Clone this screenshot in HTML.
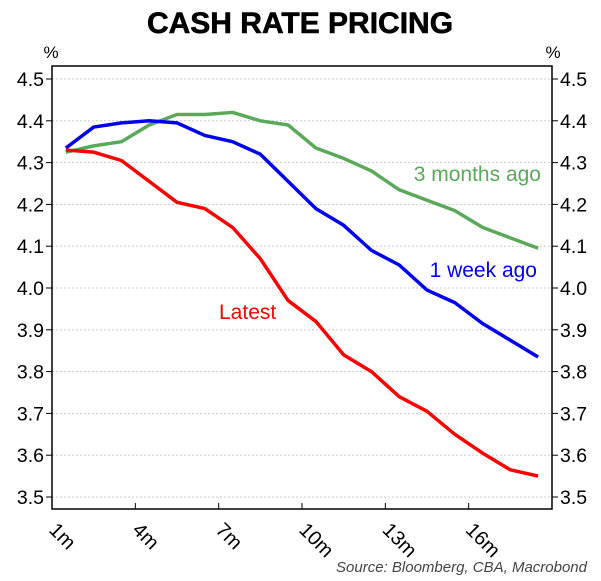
<!DOCTYPE html>
<html><head><meta charset="utf-8"><style>
body{margin:0;background:#fff;font-family:"Liberation Sans",sans-serif}
svg text{font-family:"Liberation Sans",sans-serif}
</style></head><body>
<svg id="chart" width="601" height="576" viewBox="0 0 601 576">
<text x="300" y="33" text-anchor="middle" font-size="30" font-weight="bold" stroke="#000" stroke-width="0.6">CASH RATE PRICING</text>
<text x="51" y="58" text-anchor="middle" font-size="17">%</text>
<text x="553" y="58" text-anchor="middle" font-size="17">%</text>
<g id="grid"></g><g id="axes"></g><g id="series"></g>
<text x="541" y="181" text-anchor="end" font-size="21" fill="#5aa85a">3 months ago</text>
<text x="537" y="277" text-anchor="end" font-size="21" fill="#0000ee">1 week ago</text>
<text x="219" y="319" font-size="21" fill="#ff0000">Latest</text>
<text x="587" y="572" text-anchor="end" font-size="15" font-style="italic" fill="#444">Source: Bloomberg, CBA, Macrobond</text>
</svg>
<script>
const categories=["1m","2m","3m","4m","5m","6m","7m","8m","9m","10m","11m","12m","13m","14m","15m","16m","17m","18m"];
const latest=[4.33,4.325,4.305,4.255,4.205,4.19,4.145,4.07,3.97,3.92,3.84,3.80,3.74,3.705,3.65,3.605,3.565,3.55];
const weekAgo=[4.335,4.385,4.395,4.40,4.395,4.365,4.35,4.32,4.255,4.19,4.15,4.09,4.055,3.995,3.965,3.915,3.875,3.835];
const monthsAgo=[4.325,4.34,4.35,4.39,4.415,4.415,4.42,4.40,4.39,4.335,4.31,4.28,4.235,4.21,4.185,4.145,4.12,4.095];
const yTicks=[3.5,3.6,3.7,3.8,3.9,4.0,4.1,4.2,4.3,4.4,4.5];
const xTickLabels=["1m","4m","7m","10m","13m","16m"];
const NS="http://www.w3.org/2000/svg";
const L=52,R=552,T=66,B=509;
const bw=(R-L)/categories.length;
const x=i=>L+bw*(i+0.5);
const y=v=>79+(4.5-v)*418;
function mk(tag,attrs,parent){const e=document.createElementNS(NS,tag);for(const k in attrs)e.setAttribute(k,attrs[k]);parent.appendChild(e);return e;}
const grid=document.getElementById('grid'),axes=document.getElementById('axes'),series=document.getElementById('series');
yTicks.forEach(v=>{
 const g=mk('line',{x1:L,x2:R,y1:y(v),y2:y(v),stroke:'#ccc','stroke-dasharray':'2,2'},grid);
 
 
 mk('line',{x1:L-6,x2:L,y1:y(v),y2:y(v),stroke:'#000'},axes);
 mk('line',{x1:R,x2:R+6,y1:y(v),y2:y(v),stroke:'#000'},axes);
 const t1=mk('text',{x:L-8,y:y(v)+7,'text-anchor':'end','font-size':'19.5'},axes);t1.textContent=v.toFixed(1);
 
 
 const t2=mk('text',{x:R+8,y:y(v)+7,'font-size':'19.5'},axes);t2.textContent=v.toFixed(1);
 
 
});
const fr=mk('path',{d:`M${L},${T}H${R}V${B}H${L}Z`,fill:'none',stroke:'#000','stroke-width':'1.5'},axes);


xTickLabels.forEach(lab=>{
 const i=categories.indexOf(lab);const xx=L+bw*i;
 mk('line',{x1:xx,x2:xx,y1:B,y2:B-6,stroke:'#000'},axes);
 const t=mk('text',{x:xx-4,y:B+22,'font-size':'20',transform:`rotate(45 ${xx-4} ${B+22})`},axes);t.textContent=lab;
 
 
});
[[monthsAgo,'#5aa85a','line-3-months-ago'],[weekAgo,'#0000ee','line-1-week-ago'],[latest,'#ff0000','line-latest']].forEach(([d,c,n])=>{
 const p=mk('polyline',{points:d.map((v,i)=>x(i)+','+y(v)).join(' '),fill:'none',stroke:c,'stroke-width':'3.5','stroke-linejoin':'round'},series);
 
 
});
</script>
</body></html>
